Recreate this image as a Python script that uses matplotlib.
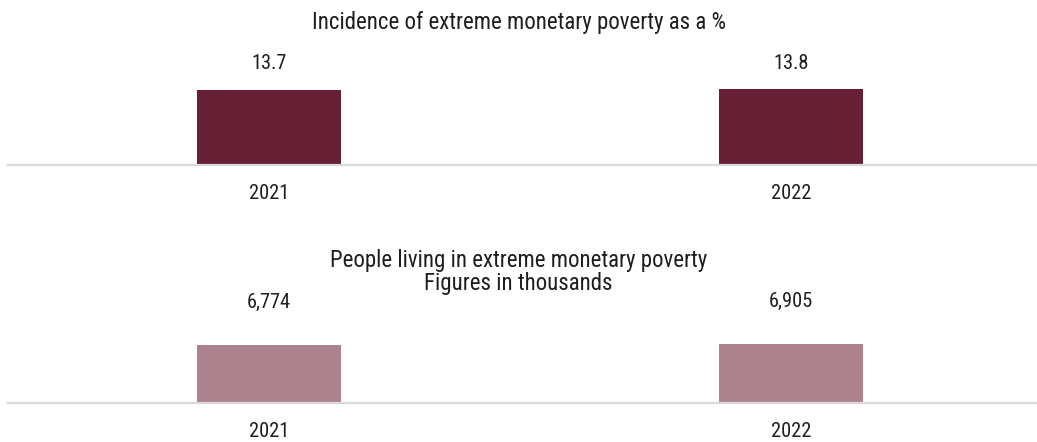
import matplotlib.pyplot as plt
from matplotlib import font_manager

# Data
years = ["2021", "2022"]
incidence_pct = [13.7, 13.8]
people_thousands = [6774, 6905]

top_title = "Incidence of extreme monetary poverty as a %"
bottom_title = "People living in extreme monetary poverty"
bottom_subtitle = "Figures in thousands"

dark_color = "#661F35"
light_color = "#AD828F"
axis_color = "#D9D9D9"
text_color = "#1E1E1E"

# look for a narrow / condensed sans (reference uses Arial Narrow)
preferred = ["Liberation Sans Narrow", "Arial Narrow", "Roboto Condensed",
             "Noto Sans Condensed", "Open Sans Condensed", "DejaVu Sans Condensed"]
narrow_file = None
entries = font_manager.fontManager.ttflist
for name in preferred:
    for f in entries:
        if f.name == name and f.style == "normal" and f.weight in (400, "normal", "regular"):
            narrow_file = f.fname
            break
    if narrow_file:
        break
if narrow_file is None:
    for f in entries:
        st = str(f.stretch).lower()
        if ("condensed" in st and "extra" not in st and "ultra" not in st) and f.style == "normal" \
                and f.weight in (400, "normal", "regular") and "Mono" not in f.name and "Serif" not in f.name:
            narrow_file = f.fname
            break

if narrow_file:
    font = font_manager.FontProperties(fname=narrow_file)
else:
    font = font_manager.FontProperties(family="Liberation Sans")

W, H = 1037, 442
fig = plt.figure(figsize=(W / 100, H / 100), dpi=100)

# scale the font so the top title is as wide as in the reference (~417 px)
probe = fig.text(0, 0, top_title, fontproperties=font, fontsize=14)
fig.canvas.draw()
w = probe.get_window_extent().width
probe.remove()
title_size = 14 * 417 / w
label_size = title_size * 0.89


def make_axes(base_px, height_px):
    return fig.add_axes([8 / W, (H - base_px) / H, (W - 8) / W, height_px / H])


def draw_panel(ax, values, color, ymax, label_offset, fmt):
    x = list(range(len(years)))
    ax.bar(x, values, width=0.276, color=color, zorder=2)
    ax.set_xlim(-0.5, 1.471)
    ax.set_ylim(0, ymax)
    for side in ["top", "left", "right"]:
        ax.spines[side].set_visible(False)
    ax.spines["bottom"].set_color(axis_color)
    ax.spines["bottom"].set_linewidth(1.6)
    ax.set_yticks([])
    ax.set_xticks(x)
    ax.set_xticklabels(years)
    for t in ax.get_xticklabels():
        t.set_fontproperties(font)
        t.set_fontsize(label_size)
        t.set_color(text_color)
    ax.tick_params(axis="x", length=0, pad=14)
    ax.patch.set_alpha(0)
    for xi, v in zip(x, values):
        ax.annotate(fmt(v), xy=(xi, v), xytext=(0, label_offset),
                    textcoords="offset points", ha="center", va="center",
                    fontproperties=font, fontsize=label_size, color=text_color,
                    annotation_clip=False)


ax1 = make_axes(164.5, 82)
draw_panel(ax1, incidence_pct, dark_color, 15, 18.5, lambda v: f"{v:.1f}")

ax2 = make_axes(402.5, 64)
draw_panel(ax2, people_thousands, light_color, 7500, 30.5, lambda v: f"{v:,}")

fig.text(0.5, 1 - 22 / H, top_title, ha="center", va="center",
         fontproperties=font, fontsize=title_size, color=text_color)
fig.text(0.5, 1 - 272 / H, bottom_title + "\n" + bottom_subtitle, ha="center", va="center",
         linespacing=0.95, fontproperties=font, fontsize=title_size, color=text_color)

fig.savefig("out.png", dpi=100, facecolor="white")
